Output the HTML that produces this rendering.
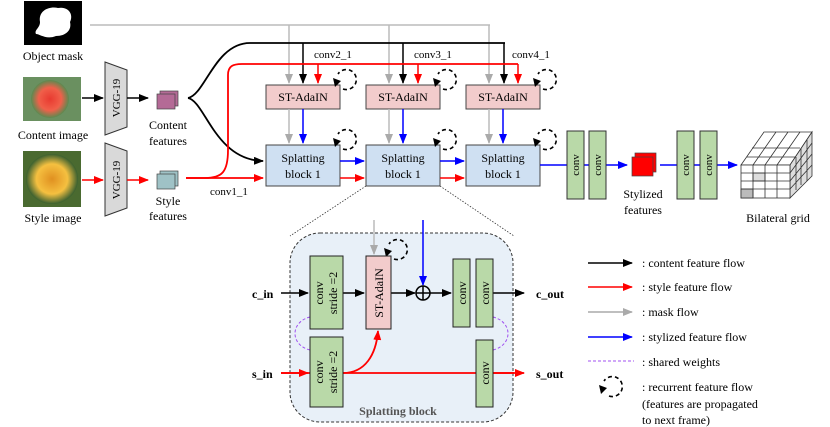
<!DOCTYPE html>
<html><head><meta charset="utf-8"><style>
html,body{margin:0;padding:0;background:#fff;}
svg{display:block;font-family:"Liberation Serif",serif;}
</style></head><body>
<svg width="830" height="427" viewBox="0 0 830 427" xmlns="http://www.w3.org/2000/svg">
<defs>
<marker id="ak" markerWidth="10" markerHeight="8" refX="9" refY="4" orient="auto" markerUnits="userSpaceOnUse"><path d="M0,0 L10,4 L0,8 z" fill="#000"/></marker>
<marker id="ar" markerWidth="10" markerHeight="8" refX="9" refY="4" orient="auto" markerUnits="userSpaceOnUse"><path d="M0,0 L10,4 L0,8 z" fill="#f00"/></marker>
<marker id="ag" markerWidth="10" markerHeight="8" refX="9" refY="4" orient="auto" markerUnits="userSpaceOnUse"><path d="M0,0 L10,4 L0,8 z" fill="#aaa"/></marker>
<marker id="ab" markerWidth="10" markerHeight="8" refX="9" refY="4" orient="auto" markerUnits="userSpaceOnUse"><path d="M0,0 L10,4 L0,8 z" fill="#00f"/></marker>
<radialGradient id="rose1" cx="0.5" cy="0.5" r="0.5"><stop offset="0" stop-color="#e83a30"/><stop offset="0.6" stop-color="#f0604a"/><stop offset="1" stop-color="#5a8a50"/></radialGradient>
<radialGradient id="rose2" cx="0.5" cy="0.5" r="0.5"><stop offset="0" stop-color="#e09020"/><stop offset="0.6" stop-color="#f5c040"/><stop offset="1" stop-color="#3a6030"/></radialGradient>
<g id="rec"><path d="M-3,10 A10,10 0 1 0 -8,-5" fill="none" stroke="#000" stroke-width="1.6" stroke-dasharray="4,3"/><path d="M-13,-1 L-5,2 L-11,8 z" fill="#000"/></g>
</defs>

<!-- images -->
<rect x="24" y="1" width="58" height="44" fill="#000"/>
<path d="M40,22 C38,10 50,6 58,8 C68,6 74,14 70,22 C72,30 66,36 56,36 C46,40 40,34 36,34 C34,30 40,28 40,22z" fill="#fff"/>
<text x="53" y="60" font-size="12" text-anchor="middle">Object mask</text>
<rect x="23" y="77" width="58" height="44" fill="#6a9060"/>
<ellipse cx="50" cy="99" rx="19" ry="19" fill="url(#rose1)"/>
<text x="53" y="139" font-size="12" text-anchor="middle">Content image</text>
<rect x="23" y="151" width="58" height="56" fill="#4a6a30"/>
<ellipse cx="52" cy="179" rx="26" ry="25" fill="url(#rose2)"/>
<text x="53" y="222" font-size="12" text-anchor="middle">Style image</text>

<!-- VGG -->
<path d="M105,62 L127,70 L127,127 L105,135 z" fill="#d9d9d9" stroke="#333" stroke-width="1"/>
<text transform="translate(120,98) rotate(-90)" font-size="11" text-anchor="middle">VGG-19</text>
<path d="M105,143 L127,151 L127,208 L105,216 z" fill="#d9d9d9" stroke="#333" stroke-width="1"/>
<text transform="translate(120,180) rotate(-90)" font-size="11" text-anchor="middle">VGG-19</text>
<line x1="82" y1="98" x2="103" y2="98" stroke="#000" stroke-width="1.5" marker-end="url(#ak)"/>
<line x1="127" y1="98" x2="148" y2="98" stroke="#000" stroke-width="1.5" marker-end="url(#ak)"/>
<line x1="82" y1="180" x2="103" y2="180" stroke="#f00" stroke-width="1.5" marker-end="url(#ar)"/>
<line x1="127" y1="180" x2="148" y2="180" stroke="#f00" stroke-width="1.5" marker-end="url(#ar)"/>

<!-- feature icons -->
<rect x="160" y="91" width="18" height="15" fill="#b46a96" stroke="#444" stroke-width="0.7"/>
<rect x="157" y="94" width="18" height="15" fill="#b46a96" stroke="#444" stroke-width="0.7"/>
<text x="168" y="129" font-size="12" text-anchor="middle">Content</text>
<text x="168" y="145" font-size="12" text-anchor="middle">features</text>
<rect x="160" y="171" width="18" height="15" fill="#9fc2c6" stroke="#444" stroke-width="0.7"/>
<rect x="157" y="174" width="18" height="15" fill="#9fc2c6" stroke="#444" stroke-width="0.7"/>
<text x="168" y="205" font-size="12" text-anchor="middle">Style</text>
<text x="168" y="220" font-size="12" text-anchor="middle">features</text>

<!-- gray mask line -->
<polyline points="90,25 490,25" fill="none" stroke="#bbb" stroke-width="1.5"/>
<line x1="289" y1="25" x2="289" y2="83" stroke="#bbb" stroke-width="1.5" marker-end="url(#ag)"/>
<line x1="389" y1="25" x2="389" y2="83" stroke="#bbb" stroke-width="1.5" marker-end="url(#ag)"/>
<line x1="489" y1="25" x2="489" y2="83" stroke="#bbb" stroke-width="1.5" marker-end="url(#ag)"/>

<!-- black content -->
<path d="M188,98 C205,95 215,43 250,43 L505,43" fill="none" stroke="#000" stroke-width="1.8"/>
<path d="M188,98 C205,101 215,160 263,161" fill="none" stroke="#000" stroke-width="1.8" marker-end="url(#ak)"/>
<line x1="303" y1="43" x2="303" y2="83" stroke="#000" stroke-width="1.5" marker-end="url(#ak)"/>
<line x1="403" y1="43" x2="403" y2="83" stroke="#000" stroke-width="1.5" marker-end="url(#ak)"/>
<line x1="504" y1="43" x2="504" y2="83" stroke="#000" stroke-width="1.5" marker-end="url(#ak)"/>

<!-- red style -->
<path d="M186,178 L205,178 C222,178 228,172 228,150 L228,75 C228,66 233,64 242,64 L518,64" fill="none" stroke="#f00" stroke-width="1.8"/>
<line x1="186" y1="178" x2="263" y2="178" stroke="#f00" stroke-width="1.8" marker-end="url(#ar)"/>
<line x1="318" y1="64" x2="318" y2="83" stroke="#f00" stroke-width="1.5" marker-end="url(#ar)"/>
<line x1="418" y1="64" x2="418" y2="83" stroke="#f00" stroke-width="1.5" marker-end="url(#ar)"/>
<line x1="518" y1="64" x2="518" y2="83" stroke="#f00" stroke-width="1.5" marker-end="url(#ar)"/>

<text x="314" y="58" font-size="11">conv2_1</text>
<text x="414" y="58" font-size="11">conv3_1</text>
<text x="512" y="58" font-size="11">conv4_1</text>
<text x="210" y="195" font-size="11">conv1_1</text>

<!-- ST-AdaIN and splatting -->
<g font-size="12" text-anchor="middle">
<rect x="266" y="85" width="74" height="24" fill="#f2cccc" stroke="#444"/>
<text x="303" y="101">ST-AdaIN</text>
<rect x="366" y="85" width="74" height="24" fill="#f2cccc" stroke="#444"/>
<text x="403" y="101">ST-AdaIN</text>
<rect x="466" y="85" width="74" height="24" fill="#f2cccc" stroke="#444"/>
<text x="503" y="101">ST-AdaIN</text>
<rect x="266" y="145" width="74" height="41" fill="#cfe0f2" stroke="#444"/>
<text x="303" y="162">Splatting</text><text x="303" y="178">block 1</text>
<rect x="366" y="145" width="74" height="41" fill="#cfe0f2" stroke="#444"/>
<text x="403" y="162">Splatting</text><text x="403" y="178">block 1</text>
<rect x="466" y="145" width="74" height="41" fill="#cfe0f2" stroke="#444"/>
<text x="503" y="162">Splatting</text><text x="503" y="178">block 1</text>
</g>
<g stroke-width="1.5">
<line x1="289" y1="109" x2="289" y2="143" stroke="#bbb" marker-end="url(#ag)"/>
<line x1="303" y1="109" x2="303" y2="143" stroke="#00f" marker-end="url(#ab)"/>
<line x1="389" y1="109" x2="389" y2="143" stroke="#bbb" marker-end="url(#ag)"/>
<line x1="403" y1="109" x2="403" y2="143" stroke="#00f" marker-end="url(#ab)"/>
<line x1="489" y1="109" x2="489" y2="143" stroke="#bbb" marker-end="url(#ag)"/>
<line x1="503" y1="109" x2="503" y2="143" stroke="#00f" marker-end="url(#ab)"/>
<line x1="340" y1="161" x2="364" y2="161" stroke="#00f" marker-end="url(#ab)"/>
<line x1="340" y1="178" x2="364" y2="178" stroke="#f00" marker-end="url(#ar)"/>
<line x1="440" y1="161" x2="464" y2="161" stroke="#00f" marker-end="url(#ab)"/>
<line x1="440" y1="178" x2="464" y2="178" stroke="#f00" marker-end="url(#ar)"/>
</g>
<use href="#rec" x="346" y="79"/>
<use href="#rec" x="446" y="79"/>
<use href="#rec" x="546" y="79"/>
<use href="#rec" x="346" y="139"/>
<use href="#rec" x="446" y="139"/>
<use href="#rec" x="546" y="139"/>

<!-- right chain -->
<line x1="540" y1="165" x2="627" y2="165" stroke="#00f" stroke-width="1.5" marker-end="url(#ab)"/>
<g font-size="11">
<rect x="567" y="131" width="17" height="68" fill="#b9d9a8" stroke="#333"/>
<text transform="translate(579,165) rotate(-90)" text-anchor="middle">conv</text>
<rect x="589" y="131" width="17" height="68" fill="#b9d9a8" stroke="#333"/>
<text transform="translate(601,165) rotate(-90)" text-anchor="middle">conv</text>
</g>
<rect x="635" y="153" width="21" height="19" fill="#f00" stroke="#444" stroke-width="0.7"/>
<rect x="632" y="157" width="21" height="19" fill="#f00" stroke="#444" stroke-width="0.7"/>
<text x="643" y="198" font-size="12" text-anchor="middle">Stylized</text>
<text x="643" y="214" font-size="12" text-anchor="middle">features</text>
<line x1="660" y1="165" x2="737" y2="165" stroke="#00f" stroke-width="1.5" marker-end="url(#ab)"/>
<g font-size="11">
<rect x="677" y="131" width="17" height="68" fill="#b9d9a8" stroke="#333"/>
<text transform="translate(689,165) rotate(-90)" text-anchor="middle">conv</text>
<rect x="700" y="131" width="17" height="68" fill="#b9d9a8" stroke="#333"/>
<text transform="translate(712,165) rotate(-90)" text-anchor="middle">conv</text>
</g>
<!-- bilateral grid -->
<g stroke="#333" stroke-width="0.8">
<path d="M741,165 L764,132 L812,132 L790,165 z" fill="#fff"/>
<path d="M790,165 L812,132 L812,176 L790,198 z" fill="#ddd"/>
<rect x="741" y="165" width="49" height="33" fill="#fff"/>
<rect x="741" y="189" width="12" height="9" fill="#bbb"/>
<rect x="753" y="173" width="12" height="8" fill="#ddd"/>
<path d="M753,165 V198 M765,165 V198 M777,165 V198 M741,173 H790 M741,181 H790 M741,189 H790" fill="none"/>
<path d="M752,148 H800 M747,157 H795 M776,132 L753,165 M788,132 L765,165 M800,132 L777,165" fill="none"/>
<path d="M796,157 V190 M801,148 V185 M807,140 V181 M790,173 L812,143 M790,181 L812,154 M790,189 L812,165" fill="none"/>
</g>
<text x="778" y="222" font-size="12" text-anchor="middle">Bilateral grid</text>

<!-- dotted zoom lines -->
<line x1="366" y1="186" x2="290" y2="236" stroke="#333" stroke-width="0.8" stroke-dasharray="1.5,1.5"/>
<line x1="440" y1="186" x2="514" y2="236" stroke="#333" stroke-width="0.8" stroke-dasharray="1.5,1.5"/>

<!-- splatting block detail -->
<rect x="290" y="233" width="223" height="189" rx="30" ry="30" fill="#e8f0f8" stroke="#333" stroke-width="1" stroke-dasharray="3,2"/>
<text x="398" y="415" font-size="12" font-weight="bold" fill="#555" text-anchor="middle">Splatting block</text>
<path d="M310,317 C290,322 290,345 310,350" fill="none" stroke="#a050f0" stroke-width="1" stroke-dasharray="3,2"/>
<path d="M493,317 C513,322 513,345 493,350" fill="none" stroke="#a050f0" stroke-width="1" stroke-dasharray="3,2"/>
<line x1="281" y1="373" x2="514" y2="373" stroke="#f00" stroke-width="1.8"/>
<line x1="493" y1="373" x2="524" y2="373" stroke="#f00" stroke-width="1.8" marker-end="url(#ar)"/>
<line x1="281" y1="373" x2="308" y2="373" stroke="#f00" stroke-width="1.8" marker-end="url(#ar)"/>
<path d="M343,373 C365,373 376,355 378,331" fill="none" stroke="#f00" stroke-width="1.8" marker-end="url(#ar)"/>
<line x1="281" y1="293" x2="308" y2="293" stroke="#000" stroke-width="1.5" marker-end="url(#ak)"/>
<line x1="343" y1="293" x2="364" y2="293" stroke="#000" stroke-width="1.5" marker-end="url(#ak)"/>
<line x1="391" y1="293" x2="415" y2="293" stroke="#000" stroke-width="1.5" marker-end="url(#ak)"/>
<line x1="430" y1="293" x2="451" y2="293" stroke="#000" stroke-width="1.5" marker-end="url(#ak)"/>
<line x1="493" y1="293" x2="524" y2="293" stroke="#000" stroke-width="1.5" marker-end="url(#ak)"/>
<line x1="374" y1="220" x2="374" y2="254" stroke="#bbb" stroke-width="1.5" marker-end="url(#ag)"/>
<line x1="423" y1="220" x2="423" y2="285" stroke="#00f" stroke-width="1.5" marker-end="url(#ab)"/>
<use href="#rec" x="397" y="249"/>
<g font-size="12">
<rect x="310" y="256" width="33" height="73" fill="#b9d9a8" stroke="#222"/>
<text transform="translate(323,293) rotate(-90)" text-anchor="middle">conv</text>
<text transform="translate(337,293) rotate(-90)" text-anchor="middle">stride =2</text>
<rect x="310" y="337" width="33" height="70" fill="#b9d9a8" stroke="#222"/>
<text transform="translate(323,372) rotate(-90)" text-anchor="middle">conv</text>
<text transform="translate(337,372) rotate(-90)" text-anchor="middle">stride =2</text>
<rect x="366" y="256" width="25" height="73" fill="#f2cccc" stroke="#222"/>
<text transform="translate(383,293) rotate(-90)" text-anchor="middle">ST-AdaIN</text>
<rect x="453" y="259" width="17" height="68" fill="#b9d9a8" stroke="#222"/>
<text transform="translate(466,293) rotate(-90)" text-anchor="middle">conv</text>
<rect x="476" y="259" width="17" height="68" fill="#b9d9a8" stroke="#222"/>
<text transform="translate(489,293) rotate(-90)" text-anchor="middle">conv</text>
<rect x="476" y="340" width="17" height="67" fill="#b9d9a8" stroke="#222"/>
<text transform="translate(489,373) rotate(-90)" text-anchor="middle">conv</text>
</g>
<circle cx="423" cy="293" r="7" fill="none" stroke="#000" stroke-width="1.5"/>
<path d="M416,293 H430 M423,286 V300" stroke="#000" stroke-width="1.5"/>
<g font-size="12" font-weight="bold">
<text x="252" y="298">c_in</text>
<text x="536" y="298">c_out</text>
<text x="252" y="378">s_in</text>
<text x="536" y="378">s_out</text>
</g>

<!-- legend -->
<line x1="588" y1="263" x2="632" y2="263" stroke="#000" stroke-width="1.5" marker-end="url(#ak)"/>
<line x1="588" y1="287" x2="632" y2="287" stroke="#f00" stroke-width="1.5" marker-end="url(#ar)"/>
<line x1="588" y1="312" x2="632" y2="312" stroke="#aaa" stroke-width="1.5" marker-end="url(#ag)"/>
<line x1="588" y1="337" x2="632" y2="337" stroke="#00f" stroke-width="1.5" marker-end="url(#ab)"/>
<line x1="588" y1="361" x2="634" y2="361" stroke="#a050f0" stroke-width="1" stroke-dasharray="3,2"/>
<use href="#rec" x="612" y="386"/>
<g font-size="12">
<text x="642" y="267">: content feature flow</text>
<text x="642" y="291">: style feature flow</text>
<text x="642" y="316">: mask flow</text>
<text x="642" y="341">: stylized feature flow</text>
<text x="642" y="366">: shared weights</text>
<text x="642" y="391">: recurrent feature flow</text>
<text x="642" y="408">(features are propagated</text>
<text x="642" y="424">to next frame)</text>
</g>
</svg>
</body></html>
